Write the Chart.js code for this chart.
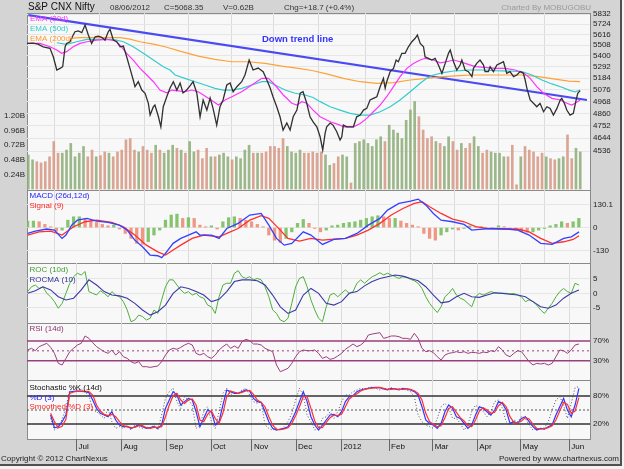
<!DOCTYPE html>
<html><head><meta charset="utf-8">
<script src="https://cdn.jsdelivr.net/npm/chart.js@4.4.1/dist/chart.umd.min.js"></script>
<style>
html,body{margin:0;padding:0;background:#f2f2f2;overflow:hidden;}
#wrap{position:absolute;left:0;top:0;width:620px;height:464px;background:#d4d4d4;border-right:2px solid #505050;border-bottom:2px solid #505050;}
.panel{position:absolute;left:27px;width:564px;background:#f8f8f8;border:1px solid #8a8a8a;box-sizing:border-box;}
canvas{position:absolute;left:0;top:0;}
</style></head><body>
<div id="wrap">
<div class="panel" style="top:13px;height:178px"></div>
<div class="panel" style="top:190px;height:74px"></div>
<div class="panel" style="top:263px;height:61px"></div>
<div class="panel" style="top:323px;height:58px"></div>
<div class="panel" style="top:380px;height:60px"></div>
<canvas id="c0" width="624" height="469"></canvas>
<canvas id="c1" width="624" height="469"></canvas>
<canvas id="c2" width="624" height="469"></canvas>
<canvas id="c3" width="624" height="469"></canvas>
<canvas id="c4" width="624" height="469"></canvas>
</div>
<script>
// ---------------- DATA ----------------
const MONTH_POS = [22.65,43.1,63.9,84.0,102.7,122.8,143.6,165.3,185.2,205.5,225.4,247.5];
const MONTH_LABELS = ['Jul','Aug','Sep','Oct','Nov','Dec','2012','Feb','Mar','Apr','May','Jun'];

const PRICE_TICKS = [5832,5724,5616,5508,5400,5292,5184,5076,4968,4860,4752,4644,4536];
const VOL_TICKS = [0.24,0.48,0.72,0.96,1.20];
const VOL_LABELS = ['0.24B','0.48B','0.72B','0.96B','1.20B'];

const closeDay = [0,2.7,5.0,7.4,10.5,12.0,13.6,15.1,16.3,17.4,18.1,19.6,21.1,21.9,23.4,25.0,26.5,28.0,29.5,31.1,32.6,34.1,35.6,37.1,37.9,39.4,41.0,42.5,44.0,45.5,47.0,48.5,49.3,50.8,52.4,53.9,55.4,56.2,57.7,58.4,60.0,61.1,62.2,63.8,65.3,66.8,68.4,69.9,71.2,72.9,74.4,75.8,77.5,79.0,80.4,82.1,83.6,84.9,86.6,88.1,89.5,91.2,92.7,94.1,95.8,98.0,99.5,101.4,103.2,105.5,107.8,109.5,111.0,112.3,114.0,115.5,116.9,118.6,120.1,121.5,123.2,124.7,126.0,127.7,129.2,130.6,132.3,133.8,135.0,136.1,136.8,138.4,139.7,141.4,142.9,143.7,144.4,146.0,147.5,149.0,150.5,152.1,153.6,155.1,156.6,158.1,159.7,161.2,162.7,163.5,164.2,165.8,167.3,168.5,169.5,171.1,172.6,174.1,175.7,177.2,178.2,179.5,181.0,181.7,183.2,184.8,186.3,187.8,189.4,190.9,192.4,193.2,194.7,196.2,197.7,198.5,200.0,201.5,203.1,203.8,205.3,206.8,208.4,209.1,210.6,211.4,212.9,214.5,216.0,217.5,219.0,220.5,222.1,223.6,225.1,226.6,227.4,228.2,229.7,231.2,232.7,234.2,235.8,237.3,238.8,240.3,241.9,243.4,244.1,245.3,246.4,247.9,249.4,250.5,251.4,252.5];
const closeVal = [5526,5529,5519,5492,5476,5392,5263,5279,5295,5492,5526,5543,5612,5646,5654,5636,5715,5612,5526,5594,5601,5588,5560,5646,5671,5560,5543,5492,5499,5392,5279,5167,5104,5151,5073,5043,4951,4845,4920,4935,4830,4742,4920,5011,5092,5151,5073,5139,5046,5073,5111,5151,5046,4830,4981,4890,4999,4908,4757,4920,4981,5120,5139,5057,5104,5151,5215,5360,5263,5282,5247,5167,5092,5011,4920,4830,4714,4775,4714,4830,4890,5043,5057,4951,4830,4786,4742,4656,4544,4688,4742,4775,4757,4699,4628,4656,4757,4742,4742,4742,4830,4845,4890,4905,4981,4996,5011,5104,5183,5089,5151,5247,5279,5360,5343,5426,5426,5492,5543,5578,5612,5526,5492,5392,5377,5360,5377,5311,5231,5327,5426,5459,5343,5263,5311,5360,5263,5247,5199,5279,5327,5360,5311,5247,5247,5295,5247,5311,5327,5343,5231,5247,5199,5215,5247,5231,5167,5089,4981,4951,4920,4951,4875,4920,4905,4845,4905,4981,4996,4951,4890,4845,4860,4966,5043,5068];

const ema20Day = [0.6,5.9,10.5,13.6,15.8,18.1,21.1,24.2,27.3,31.8,36.4,40.2,42.5,45.5,48.5,51.6,54.7,57.7,60.7,63.8,66.1,69.1,72.1,75.2,78.2,82.8,87.4,90.4,93.5,98.0,102.6,107.2,110.2,113.2,117.0,120.9,123.2,125.4,127.7,130.6,133.8,138.4,142.9,144.4,149.0,152.1,155.1,158.1,161.2,164.2,167.3,170.3,173.4,176.4,179.5,181.7,185.5,188.6,191.6,194.7,197.7,200.0,204.6,209.1,213.7,218.3,222.8,226.6,229.7,232.7,235.8,239.6,243.4,246.4,248.7,250.2,252.5];
const ema20Val = [5526,5526,5492,5459,5426,5443,5492,5526,5543,5560,5567,5553,5509,5426,5360,5279,5215,5151,5073,5048,5073,5066,5057,5073,5057,4996,4935,4981,5011,5057,5120,5183,5183,5120,5027,4951,4935,4966,4951,4890,4830,4786,4757,4742,4742,4771,4816,4875,4935,5011,5104,5199,5279,5327,5360,5377,5360,5333,5343,5360,5343,5327,5295,5289,5279,5279,5263,5237,5183,5104,5043,4996,4981,4951,4935,4951,4981];

const ema50Day = [13.6,18.1,22.7,27.3,33.3,39.4,44.0,48.5,53.1,57.7,62.2,65.3,67.6,72.1,76.7,81.3,85.8,89.6,93.5,98.0,102.6,107.2,110.2,113.2,117.8,122.4,126.9,130.6,133.8,138.4,142.9,147.5,152.1,156.6,161.2,165.8,170.3,174.9,179.5,182.5,185.5,190.1,194.7,197.7,201.5,207.6,213.7,219.8,225.9,230.5,235.0,239.6,244.2,248.0,250.2,252.5];
const ema50Val = [5533,5516,5543,5567,5567,5567,5543,5492,5426,5360,5295,5263,5215,5183,5151,5120,5089,5073,5073,5089,5120,5151,5151,5120,5073,5043,5027,5004,4966,4920,4890,4860,4845,4845,4875,4920,4981,5057,5136,5183,5215,5237,5253,5256,5263,5263,5256,5253,5247,5215,5167,5130,5099,5068,5057,5073];

const ema200Day = [19.6,24.2,34.8,42.5,47.0,51.6,57.7,63.0,70.6,78.2,85.8,93.5,101.0,108.7,116.3,123.9,130.1,136.8,144.4,152.1,159.7,167.3,174.9,182.5,190.1,197.7,203.1,210.6,218.3,225.9,233.5,241.1,247.2,252.5];
const ema200Val = [5578,5584,5584,5584,5570,5543,5519,5492,5443,5399,5367,5343,5343,5327,5301,5279,5258,5225,5183,5151,5136,5142,5167,5183,5199,5209,5215,5215,5215,5215,5199,5176,5157,5151];

const trendDay = [0.6,255.6];
const trendVal = [5821,4981];

const VOL_START = 0.6, VOL_STEP = 1.938;
const volume = [0.56,0.48,0.45,0.43,0.45,0.53,0.78,0.59,0.59,0.64,0.75,0.53,0.59,0.70,0.53,0.64,0.53,0.55,0.61,0.59,0.53,0.61,0.64,0.81,0.83,0.64,0.61,0.70,0.64,0.59,0.72,0.64,0.59,
0.64,0.72,0.67,0.64,0.59,0.78,0.61,0.64,0.50,0.67,0.53,0.53,0.56,0.59,0.53,0.48,0.53,0.50,0.64,0.72,0.59,0.59,0.59,0.61,0.70,0.70,0.67,0.83,0.70,0.61,0.59,0.64,0.59,0.59,
0.61,0.59,0.61,0.56,0.39,0.42,0.53,0.56,0.53,0.10,0.75,0.78,0.81,0.75,0.70,0.81,0.86,0.78,1.05,0.97,0.92,0.83,1.13,1.30,1.44,1.19,0.97,0.83,0.86,0.78,0.75,0.70,0.86,0.78,0.64,
0.75,0.67,0.75,0.86,0.70,0.59,0.64,0.61,0.59,0.59,0.53,0.53,0.72,0.07,0.53,0.70,0.64,0.61,0.53,0.59,0.53,0.50,0.48,0.50,0.53,0.89,0.50,0.67,0.61];

const macdDay = [0.3,3.8,9.0,12.5,16.0,17.8,20.4,23.0,27.4,31.8,37.0,42.2,45.7,49.2,52.7,56.2,59.7,61.5,63.2,66.7,70.2,73.7,77.2,78.9,84.2,87.7,91.2,96.4,101.7,106.9,110.4,113.9,117.4,120.9,126.1,129.6,134.9,140.1,145.4,150.6,155.8,161.1,164.6,169.8,175.1,178.6,182.1,185.5,189.0,194.3,199.5,203.0,206.5,211.8,218.8,224.0,229.2,234.5,239.7,245.0,248.5,252.0];
const macdVal = [-33,-20,-8,-14,-61,-42,14,42,52,37,29,14,-14,-71,-108,-155,-159,-170,-146,-89,-61,-42,-24,-42,-42,-61,-5,24,71,80,14,-61,-99,-89,-24,-42,-95,-67,-61,-33,14,52,99,137,150,161,127,80,42,33,18,-14,-10,-5,-8,-14,-42,-89,-95,-61,-52,-24];
const signalDay = [0.3,5.5,10.8,16.0,21.3,26.5,31.8,38.7,44.0,49.2,54.5,59.7,63.2,66.7,70.2,75.4,80.7,87.7,91.2,96.4,101.7,106.9,110.4,115.6,119.1,124.4,129.6,134.9,140.1,145.4,150.6,155.8,161.1,166.3,171.6,176.8,180.3,183.8,189.0,194.3,199.5,204.8,210.0,217.0,224.0,229.2,234.5,239.7,245.0,249.3,252.0];
const signalVal = [-42,-24,-20,-42,5,33,42,29,5,-42,-99,-137,-155,-127,-99,-61,-42,-52,-33,-5,42,67,52,-14,-61,-76,-61,-71,-65,-61,-42,-14,24,71,108,137,146,118,80,48,33,5,-5,-8,-8,-24,-61,-89,-80,-67,-46];
const HIST_START = 0.3, HIST_STEP = 2.621;
const macdHist = [37,37,33,18,5,-20,-14,42,61,61,52,37,29,18,10,14,-8,-33,-61,-89,-95,-80,-42,-14,42,71,76,52,56,52,14,5,10,-8,33,56,61,52,42,33,18,5,-42,-71,-84,-61,-24,24,46,24,-5,-24,-14,10,14,24,29,33,42,52,61,67,61,52,52,37,24,14,5,-33,-61,-71,-42,-24,-8,-14,-5,10,5,5,-1,-5,10,5,-8,-14,-24,-27,-24,-14,-5,10,18,33,24,33,52];

const OSC_START = 0.3, OSC_STEP = 1.7475;
const roc = [0.6,2.3,2.9,1.7,2.3,0,-1.2,-2.9,-5.2,-3.5,0,3.5,5.8,7.0,6.4,7.6,0.6,0,-0.6,0.9,0,-1.2,0.6,-0.6,-1.2,-2.9,-5.8,-9.9,-9.3,-7.6,-8.1,-9.3,-8.7,-5.8,-7.0,-2.3,2.3,4.7,4.7,2.9,1.2,0,0.6,-0.6,0,-1.2,-1.7,-4.1,-4.7,-7.0,-1.2,2.9,3.5,3.5,7.0,7.9,5.8,5.2,5.8,4.7,5.2,4.7,2.3,-1.2,-5.8,-7.0,-9.3,-9.9,-8.7,-3.5,2.3,5.2,5.8,2.3,-2.3,-5.8,-8.7,-9.9,-4.7,-0.6,0,-1.2,0,1.2,0,0.6,3.5,4.7,3.5,4.7,5.8,6.4,7.2,6.4,7.0,6.4,5.8,5.2,5.8,5.6,4.9,4.4,3.5,1.7,-1.2,-3.5,-5.2,-6.7,-4.7,-1.2,0,1.7,-0.6,-1.7,-2.3,-3.5,-4.7,-1.2,0,-0.6,0,0.6,0.2,0,0,0,-0.2,0,-0.6,-1.2,-2.9,-2.3,-2.9,-4.1,-5.8,-7.0,-5.2,-3.5,-1.2,0.6,1.7,0.6,0,3.5,2.9];
const ROCMA_STEP = 3.495;
const rocma = [0,0.9,2.3,1.2,-1.2,-2.3,-1.7,1.2,4.7,2.9,0.6,-0.6,-0.9,-1.7,-3.5,-5.8,-7.6,-6.4,-4.1,0,2.3,1.7,0.6,-0.6,-2.9,-2.1,0.6,4.1,4.7,4.7,4.4,2.9,-0.6,-4.7,-7.0,-5.8,-0.6,1.7,0,-3.5,-4.1,-2.9,0,0.6,2.6,4.1,5.2,5.8,6.4,6.0,5.2,4.4,2.3,-0.6,-3.3,-2.9,-1.2,0,-1.2,-1.4,-0.6,0.2,0,-0.3,-0.6,-1.2,-2.9,-4.7,-5.2,-4.1,-1.7,0,1.2];

const rsi = [51.7,55.1,50.3,58.5,61.9,65.3,57.1,44.9,24.6,21.2,34.7,48.3,55.1,61.9,65.3,80.2,75.4,66.6,58.5,53.1,48.3,44.9,51.7,41.5,48.3,38.1,34.7,28.0,24.6,28.0,17.8,17.8,16.4,17.8,19.2,28.0,41.5,51.7,55.1,53.1,57.1,61.9,65.3,61.9,44.9,41.5,44.9,38.1,34.7,41.5,51.7,58.5,63.9,55.1,59.8,55.1,68.6,73.4,70.7,63.9,63.9,61.9,55.1,51.7,48.3,21.2,7.6,11.0,14.4,24.6,38.1,48.3,51.7,50.3,50.3,51.7,44.9,34.7,38.1,32.7,34.7,39.5,44.9,53.1,58.5,63.9,58.5,61.9,68.6,82.2,84.2,85.6,86.9,75.4,77.5,80.2,80.2,78.8,75.4,75.4,73.4,85.6,75.4,55.1,48.3,50.3,46.3,38.1,31.4,41.5,44.9,46.3,48.3,46.3,48.3,44.9,46.9,46.3,44.9,47.6,46.3,50.3,48.3,58.5,51.7,41.5,38.1,44.9,50.3,48.3,38.1,28.0,21.2,24.6,23.2,24.6,21.2,24.6,38.1,51.7,50.3,44.9,51.7,61.9,63.9];

const STO_START = 10.78;
const stochK = [32.1,7.1,12,30,55,92.9,95,92.1,95,88,82.1,50.0,46.4,39.3,32.1,53.6,25.0,10.7,14.3,10.7,17.9,7.1,17.9,14.3,10.7,14.3,10.7,17.9,7.1,39.3,75.0,89.3,96.4,67.9,53.6,78.6,71.4,60.7,10.7,17.9,46.4,57.1,25.0,10.7,46.4,85.7,96.4,82.1,89.3,85.7,92.9,96.4,82.1,67.9,64.3,67.9,17.9,10.7,7.1,10.7,7.1,14.3,25.0,42.9,71.4,96.4,82.1,39.3,25.0,7.1,10.7,32.1,35.7,46.4,32.1,46.4,67.9,82.1,82.1,89.3,92.9,96.4,95.0,97.9,99.3,96.4,92.9,96.4,95.0,97.9,92.9,96.4,95.0,92.9,89.3,78.6,39.3,25.0,17.9,14.3,10.7,32.1,57.1,64.3,53.6,32.1,32.1,21.4,7.1,17.9,46.4,60.7,53.6,46.4,35.7,46.4,67.9,71.4,53.6,25.0,17.9,28.6,25.0,35.7,32.1,17.9,7.1,10.7,9.3,12.1,25.0,50.0,71.4,78.6,60.7,32.1,64.3,97.9,100];
const stochD = [39.3,12,14,25,40,88.6,90,90.7,90,89.3,87,71.4,53.6,42.9,39.3,35.7,46.4,28.6,17.9,14.3,14.3,10.7,14.3,17.9,14.3,10.7,12.1,14.3,10.7,17.9,53.6,71.4,89.3,82.1,60.7,67.9,75.0,71.4,46.4,14.3,32.1,50.0,46.4,17.9,25.0,60.7,92.9,89.3,85.7,85.7,89.3,92.9,90.7,75.0,67.9,66.4,46.4,25.0,10.7,7.1,9.3,10.7,14.3,28.6,46.4,67.9,89.3,67.9,35.7,17.9,7.1,17.9,28.6,39.3,40.7,35.7,46.4,67.9,78.6,80.7,89.3,92.9,95.0,96.4,97.9,98.6,97.9,95.0,92.9,96.4,95.0,92.9,96.4,95.0,92.9,89.3,82.1,57.1,28.6,21.4,17.9,10.7,21.4,46.4,60.7,53.6,35.7,32.1,21.4,10.7,17.9,39.3,57.1,53.6,46.4,39.3,50.0,67.9,64.3,50.0,21.4,25.0,21.4,32.1,35.7,25.0,14.3,7.1,10.7,9.3,14.3,17.9,39.3,57.1,75.0,50.0,35.7,60.7,96.4];
const stochSD = [42.9,25.0,12.1,15.0,30.0,85.7,88.6,90.0,90.7,90.0,89.3,82.1,60.7,47.9,40.7,37.9,40.7,35.7,25.0,16.4,14.3,12.1,12.9,16.4,16.4,12.1,10.7,12.9,12.9,14.3,35.7,60.7,80.7,85.7,71.4,64.3,71.4,73.6,60.7,28.6,25.0,40.7,47.9,32.1,21.4,42.9,78.6,90.7,87.9,85.7,87.9,90.7,92.1,83.6,71.4,66.4,57.1,35.7,17.9,8.6,7.9,9.3,12.1,21.4,37.9,57.1,78.6,78.6,53.6,26.4,12.1,12.1,23.6,33.6,39.3,37.9,40.7,57.1,73.6,80.0,85.0,90.7,94.3,95.7,97.1,97.9,98.6,96.4,94.3,94.3,95.7,94.3,94.3,95.7,94.3,91.4,85.7,71.4,42.9,25.0,19.3,14.3,16.4,33.6,53.6,57.1,45.0,33.6,26.4,16.4,14.3,28.6,47.9,55.0,50.0,42.9,45.0,59.3,66.4,57.1,35.7,23.6,22.9,26.4,33.6,30.7,19.3,10.7,9.3,10.0,12.1,16.4,28.6,47.9,66.4,62.1,42.9,47.9,76.4];

// ---------------- LAYOUT / STYLE ----------------
const W = 624, H = 469, L = 27, R = 590;
const X_MIN = 0, X_MAX = 257;
const FONT = 'Liberation Sans, Arial, sans-serif';
Chart.defaults.font.family = FONT;
Chart.defaults.font.size = 8;
Chart.defaults.color = '#222';

const pts = (days, vals) => vals.map((v, i) => ({x: days[i], y: v}));
const reg = (start, step, vals) => vals.map((v, i) => ({x: start + i * step, y: v}));
const flat = v => [{x: X_MIN, y: v}, {x: X_MAX, y: v}];

function closeAt(d){
  if (d <= closeDay[0]) return closeVal[0];
  for (let i = 1; i < closeDay.length; i++) {
    if (d <= closeDay[i]) {
      const t = (d - closeDay[i-1]) / (closeDay[i] - closeDay[i-1]);
      return closeVal[i-1] + t * (closeVal[i] - closeVal[i-1]);
    }
  }
  return closeVal[closeVal.length - 1];
}
const zeroPad = s => { s.paddingTop = 0; s.paddingBottom = 0; s.paddingLeft = 0; s.paddingRight = 0; };

function xScale(show){
  return {
    type: 'linear', min: X_MIN, max: X_MAX, offset: false,
    afterBuildTicks: s => { s.ticks = MONTH_POS.map(v => ({value: v})); },
    afterFit: s => { s.height = show ? 20 : 0; zeroPad(s); },
    grid: {color: '#dcdcdc', lineWidth: 1, drawTicks: show, tickLength: 12, tickColor: '#666', tickWidth: 1},
    border: {display: false},
    ticks: {display: show, autoSkip: false, maxRotation: 0, minRotation: 0, align: 'start', labelOffset: 2, padding: -9,
      color: '#111', font: {size: 8}, callback: (v, i) => MONTH_LABELS[i]}
  };
}
function yScale(min, max, ticks, labels, gridOn, type){
  return {
    type: type || 'linear', position: 'right', min: min, max: max,
    afterBuildTicks: s => { s.ticks = ticks.map(v => ({value: v})); },
    afterFit: s => { s.width = W - R; zeroPad(s); },
    grid: {display: gridOn, color: '#e6e6e6', drawTicks: false},
    border: {display: false},
    ticks: {padding: 3, color: '#222', font: {size: 8}, autoSkip: false, callback: (v, i) => labels[i]}
  };
}
function line(data, color, width, yID, extra){
  return Object.assign({type: 'line', data: data, borderColor: color, borderWidth: width, pointRadius: 0,
    fill: false, tension: 0, yAxisID: yID, xAxisID: 'x'}, extra || {});
}
const textPlugin = {
  id: 'texts',
  afterDraw(chart, args, opts){
    const ctx = chart.ctx;
    (opts.items || []).forEach(t => {
      ctx.save();
      ctx.font = (t.weight || 'normal') + ' ' + (t.size || 8) + 'px ' + FONT;
      ctx.fillStyle = t.color || '#222';
      ctx.textAlign = t.align || 'left';
      ctx.textBaseline = 'middle';
      ctx.fillText(t.text, t.x, t.y);
      ctx.restore();
    });
  }
};
function options(pad, scales, texts){
  return {responsive: false, animation: false, events: [], layout: {padding: pad}, scales: scales,
    plugins: {legend: {display: false}, tooltip: {enabled: false}, texts: {items: texts}}};
}

// ---------------- MAIN PANEL ----------------
const volColors = volume.map((v, i) => {
  const d = VOL_START + i * VOL_STEP;
  return closeAt(d) >= closeAt(d - VOL_STEP) ? 'rgba(140,172,118,0.85)' : 'rgba(214,150,130,0.85)';
});
new Chart(document.getElementById('c0'), {
  type: 'line',
  data: {datasets: [
    line(pts(closeDay, closeVal), '#303030', 1.3, 'price'),
    line(pts(ema20Day, ema20Val), '#ff33ff', 1.2, 'price'),
    line(pts(ema50Day, ema50Val), '#33cccc', 1.2, 'price'),
    line(pts(ema200Day, ema200Val), '#ffa236', 1.2, 'price'),
    line(pts(trendDay, trendVal), '#4a4af2', 2.2, 'price'),
    {type: 'bar', data: reg(VOL_START, VOL_STEP, volume), backgroundColor: volColors, barThickness: 2, yAxisID: 'vol', xAxisID: 'x', grouped: false}
  ]},
  options: options({left: 0, right: 0, top: 13, bottom: H - 190}, {
    x: xScale(false),
    price: yScale(4223, 5843, PRICE_TICKS, PRICE_TICKS.map(String), true, 'logarithmic'),
    vol: {type: 'linear', position: 'left', min: -0.016, max: 2.895,
      afterBuildTicks: s => { s.ticks = VOL_TICKS.map(v => ({value: v})); },
      afterFit: s => { s.width = L; zeroPad(s); },
      grid: {display: false, drawTicks: false}, border: {display: false},
      ticks: {padding: 2, color: '#222', font: {size: 8}, callback: (v, i) => VOL_LABELS[i]}}
  }, [
    {text: 'S&P CNX Nifty', x: 28, y: 7.5, size: 10, color: '#111'},
    {text: '08/06/2012', x: 110, y: 7.5, color: '#333'},
    {text: 'C=5068.35', x: 164, y: 7.5, color: '#333'},
    {text: 'V=0.62B', x: 223, y: 7.5, color: '#333'},
    {text: 'Chg=+18.7 (+0.4%)', x: 284, y: 7.5, color: '#333'},
    {text: 'Charted By MOBUGOBU', x: 591, y: 7.5, color: '#9a9a9a', align: 'right'},
    {text: 'EMA (20d)', x: 30, y: 18.5, color: '#ff33ff'},
    {text: 'EMA (50d)', x: 30, y: 28.5, color: '#33cccc'},
    {text: 'EMA (200d)', x: 30, y: 38.5, color: '#ff9a2e'},
    {text: 'Down trend line', x: 262, y: 39, size: 9.5, weight: 'bold', color: '#3333ff'},
    {text: 'Copyright \u00A9 2012 ChartNexus', x: 1, y: 459, color: '#222'},
    {text: 'Powered by www.chartnexus.com', x: 619, y: 459, color: '#222', align: 'right'}
  ]),
  plugins: [textPlugin]
});

// ---------------- MACD ----------------
const histColors = macdHist.map((v, i) => (i === 0 || v >= macdHist[i-1]) ? 'rgba(120,190,95,0.9)' : 'rgba(238,140,118,0.9)');
new Chart(document.getElementById('c1'), {
  type: 'line',
  data: {datasets: [
    line(pts(macdDay, macdVal), '#3340ff', 1.3, 'y'),
    line(pts(signalDay, signalVal), '#ff3030', 1.3, 'y'),
    {type: 'bar', data: reg(HIST_START, HIST_STEP, macdHist), backgroundColor: histColors, barThickness: 2.6, yAxisID: 'y', xAxisID: 'x', grouped: false}
  ]},
  options: options({left: L, right: 0, top: 190, bottom: H - 263}, {
    x: xScale(false),
    y: yScale(-200, 212.4, [130.1, 0, -130], ['130.1', '0', '-130'], true)
  }, [
    {text: 'MACD (26d,12d)', x: 29.5, y: 196, color: '#2222ff'},
    {text: 'Signal (9)', x: 29.5, y: 206, color: '#ff2222'}
  ]),
  plugins: [textPlugin]
});

// ---------------- ROC ----------------
new Chart(document.getElementById('c2'), {
  type: 'line',
  data: {datasets: [
    line(reg(OSC_START, ROCMA_STEP, rocma), '#3a3aa8', 1.1, 'y'),
    line(reg(OSC_START, OSC_STEP, roc), '#4caf3a', 1.0, 'y')
  ]},
  options: options({left: L, right: 0, top: 263, bottom: H - 323}, {
    x: xScale(false),
    y: yScale(-10.35, 10.58, [5, 0, -5], ['5', '0', '-5'], true)
  }, [
    {text: 'ROC (10d)', x: 29.5, y: 270, color: '#3f9f2f'},
    {text: 'ROCMA (10)', x: 29.5, y: 279.5, color: '#333399'}
  ]),
  plugins: [textPlugin]
});

// ---------------- RSI ----------------
new Chart(document.getElementById('c3'), {
  type: 'line',
  data: {datasets: [
    line(reg(OSC_START, OSC_STEP, rsi), '#9c3d7c', 1.0, 'y'),
    line(flat(70), '#9c3d7c', 1.5, 'y'),
    line(flat(30), '#9c3d7c', 1.5, 'y'),
    line(flat(50), '#9c3d7c', 1.0, 'y', {borderDash: [2, 3]})
  ]},
  options: options({left: L, right: 0, top: 323, bottom: H - 380}, {
    x: xScale(false),
    y: yScale(-9.3, 106.6, [70, 30], ['70%', '30%'], false)
  }, [
    {text: 'RSI (14d)', x: 29.5, y: 329, color: '#8f3470'}
  ]),
  plugins: [textPlugin]
});

// ---------------- STOCHASTIC ----------------
new Chart(document.getElementById('c4'), {
  type: 'line',
  data: {datasets: [
    line(reg(STO_START, OSC_STEP, stochSD), '#ff3030', 1.2, 'y'),
    line(reg(STO_START, OSC_STEP, stochD), '#3333ff', 1.2, 'y'),
    line(reg(STO_START, OSC_STEP, stochK), '#444444', 0.9, 'y', {borderDash: [1, 2]}),
    line(flat(80), '#333333', 1.3, 'y'),
    line(flat(20), '#333333', 1.3, 'y'),
    line(flat(50), '#555555', 1.0, 'y', {borderDash: [2, 2]})
  ]},
  options: options({left: L, right: 0, top: 380, bottom: H - 439 - 20}, {
    x: xScale(true),
    y: yScale(-12.1, 114.3, [80, 20], ['80%', '20%'], false)
  }, [
    {text: 'Stochastic %K (14d)', x: 29.5, y: 388, color: '#111'},
    {text: '%D (3)', x: 29.5, y: 397.5, color: '#2222ff'},
    {text: 'Smoothed %D (3)', x: 29.5, y: 407, color: '#ff2222'}
  ]),
  plugins: [textPlugin]
});
</script>
</body></html>
